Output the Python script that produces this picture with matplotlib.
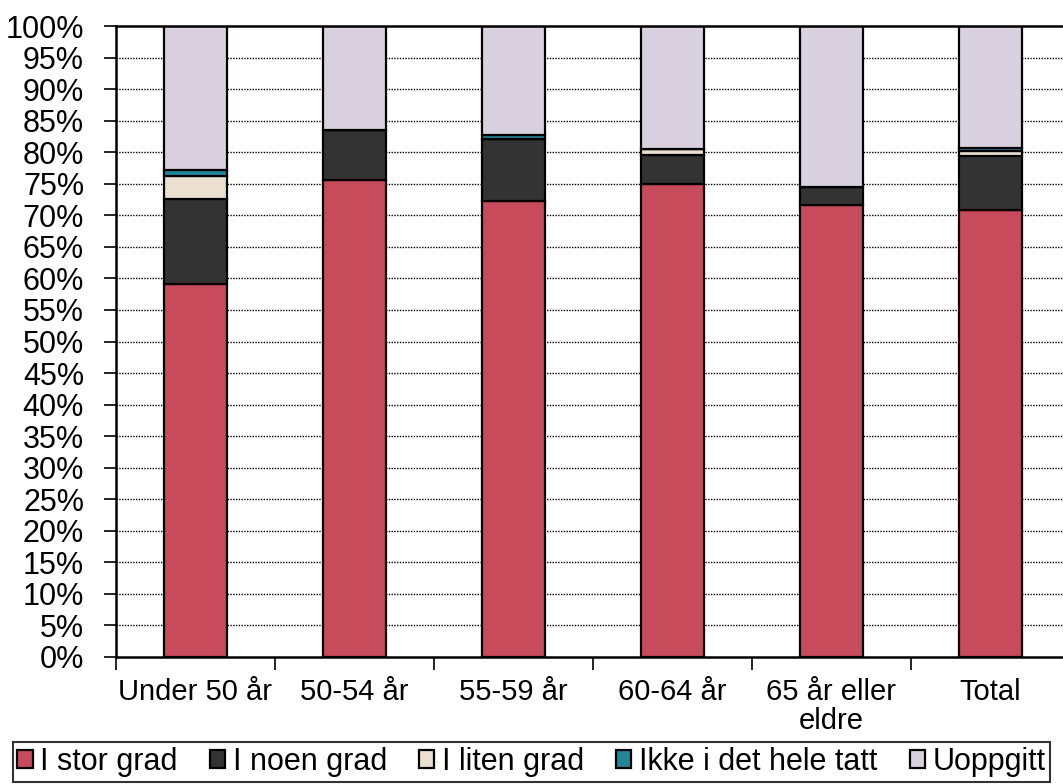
import matplotlib
matplotlib.use("Agg")
import matplotlib.pyplot as plt
import numpy as np
from matplotlib.ticker import FixedLocator

plt.rcParams['font.family'] = ['Liberation Sans', 'DejaVu Sans']

categories = ["Under 50 år", "50-54 år", "55-59 år", "60-64 år", "65 år eller\neldre", "Total"]
series_names = ["I stor grad", "I noen grad", "I liten grad", "Ikke i det hele tatt", "Uoppgitt"]
i_stor_grad = [59.1, 75.6, 72.3, 75.0, 71.6, 70.8]
i_noen_grad = [13.5, 7.9, 9.8, 4.6, 2.9, 8.6]
i_liten_grad = [3.6, 0.0, 0.0, 0.9, 0.0, 0.8]
ikke_i_det_hele_tatt = [1.0, 0.0, 0.6, 0.0, 0.0, 0.4]
uoppgitt = [22.8, 16.5, 17.3, 19.5, 25.5, 19.4]
colors = ["#C84B5C", "#333333", "#EBDFCF", "#23859A", "#D9D1E0"]

series = [i_stor_grad, i_noen_grad, i_liten_grad, ikke_i_det_hele_tatt, uoppgitt]

W, H = 1063, 784
fig = plt.figure(figsize=(W / 100, H / 100), dpi=100)
left, right, bottom, top = 116, 1063, 657, 26
ax = fig.add_axes([left / W, 1 - bottom / H, (right - left) / W, (bottom - top) / H])

x = np.arange(len(categories))
base = np.zeros(len(categories))
for vals, c, name in zip(series, colors, series_names):
    vals = np.array(vals)
    ax.bar(x, vals, bottom=base, width=0.4, color=c, edgecolor="black", linewidth=1.6,
           label=name, zorder=3)
    base += vals

cat_px = 159
ax.set_xlim(-0.5, -0.5 + (right - left) / cat_px)
ax.set_ylim(0, 100)

FS = 22
yt = np.arange(0, 101, 5)
ax.set_yticks(yt)
ax.set_yticklabels([f"{v}%" for v in yt], fontsize=FS)
for v in yt[1:-1]:
    ax.axhline(v, color="black", linestyle=(0, (1, 1)), linewidth=1.0, zorder=1)
ax.axhline(100, color="black", linewidth=1.8, zorder=4, clip_on=False)

ax.xaxis.set_major_locator(FixedLocator(np.arange(-0.5, 6.0, 1.0)))
ax.set_xticklabels([])
ax.xaxis.set_minor_locator(FixedLocator(x))
ax.set_xticklabels(categories, minor=True, fontsize=21, linespacing=1.05)
ax.tick_params(axis="x", which="minor", length=0, pad=15)
ax.tick_params(axis="x", which="major", length=9, width=1.2, direction="out")
ax.tick_params(axis="y", length=9, width=1.2, direction="out", pad=14)

for s in ["top", "right"]:
    ax.spines[s].set_visible(False)
ax.spines["left"].set_linewidth(1.8)
ax.spines["bottom"].set_linewidth(1.8)

handles, labels = ax.get_legend_handles_labels()
leg = fig.legend(handles, labels, loc="center", bbox_to_anchor=(0.5, 1 - 762 / H), ncol=5,
                 fontsize=FS, frameon=True, fancybox=False, edgecolor="black",
                 handlelength=0.5, handleheight=0.5, handletextpad=0.25, columnspacing=1.05,
                 borderpad=0.15, borderaxespad=0)
leg.get_frame().set_linewidth(1.5)

fig.savefig("out.png", dpi=100)
